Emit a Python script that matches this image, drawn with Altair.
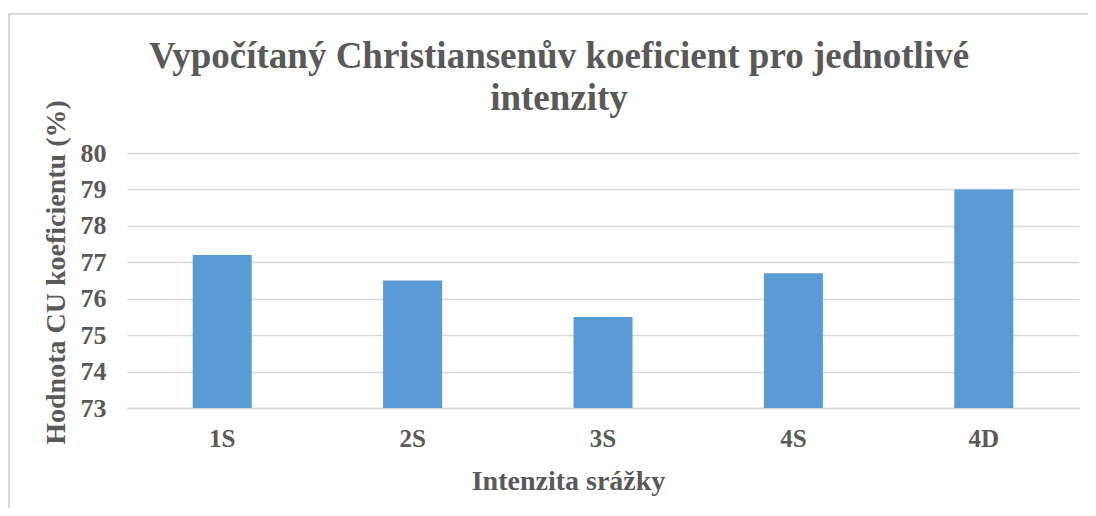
import altair as alt
import pandas as pd

categories = ["1S", "2S", "3S", "4S", "4D"]
values = [77.2, 76.5, 75.5, 76.7, 79.0]
y_ticks = [73, 74, 75, 76, 77, 78, 79, 80]

df = pd.DataFrame({"kat": categories, "cu": values})

FONT = "Liberation Serif"
GRAY = "#595959"
GRID = "#d9d9d9"

bars = alt.Chart(df).mark_bar(color="#5b9bd5", clip=True).encode(
    x=alt.X("kat:N", sort=categories,
            scale=alt.Scale(paddingInner=0.69, paddingOuter=0.345),
            axis=alt.Axis(title="Intenzita srážky", labelAngle=0, ticks=False, tickSize=0,
                          domain=True, domainColor=GRID, domainWidth=1.5,
                          labelPadding=18, labelFontSize=25, titleFontSize=28,
                          titlePadding=16, titleX=441)),
    y=alt.Y("cu:Q", scale=alt.Scale(domain=[73, 80], zero=False, nice=False),
            axis=alt.Axis(title="Hodnota CU koeficientu (%)", values=y_ticks,
                          ticks=False, tickSize=0, domain=False, grid=True,
                          gridColor=GRID, gridWidth=1.5, labelPadding=21,
                          labelFontSize=26, titleFontSize=28, titlePadding=10,
                          titleY=119)),
)

frame = alt.Chart(pd.DataFrame({"a": [0]})).mark_rect(
    fill=None, stroke=GRID, strokeWidth=2
).encode(
    x=alt.value(-118), x2=alt.value(1040),
    y=alt.value(-139), y2=alt.value(420),
)

chart = alt.layer(frame, bars).properties(
    width=952, height=255,
    title=alt.TitleParams(
        ["Vypočítaný Christiansenův koeficient pro jednotlivé", "intenzity"],
        anchor="middle", frame="group", dx=-44, dy=115, fontSize=37, font=FONT,
        fontWeight="bold", color=GRAY, lineHeight=42, offset=10),
    autosize=alt.AutoSizeParams(type="none"),
    padding={"left": 119, "top": 145, "right": 9, "bottom": 100},
).configure_view(stroke=None).configure_axis(
    labelFont=FONT, titleFont=FONT, labelColor=GRAY, titleColor=GRAY,
    labelFontWeight="bold", titleFontWeight="bold",
)

chart.save("out.html", embed_options={"renderer": "svg", "actions": False})
